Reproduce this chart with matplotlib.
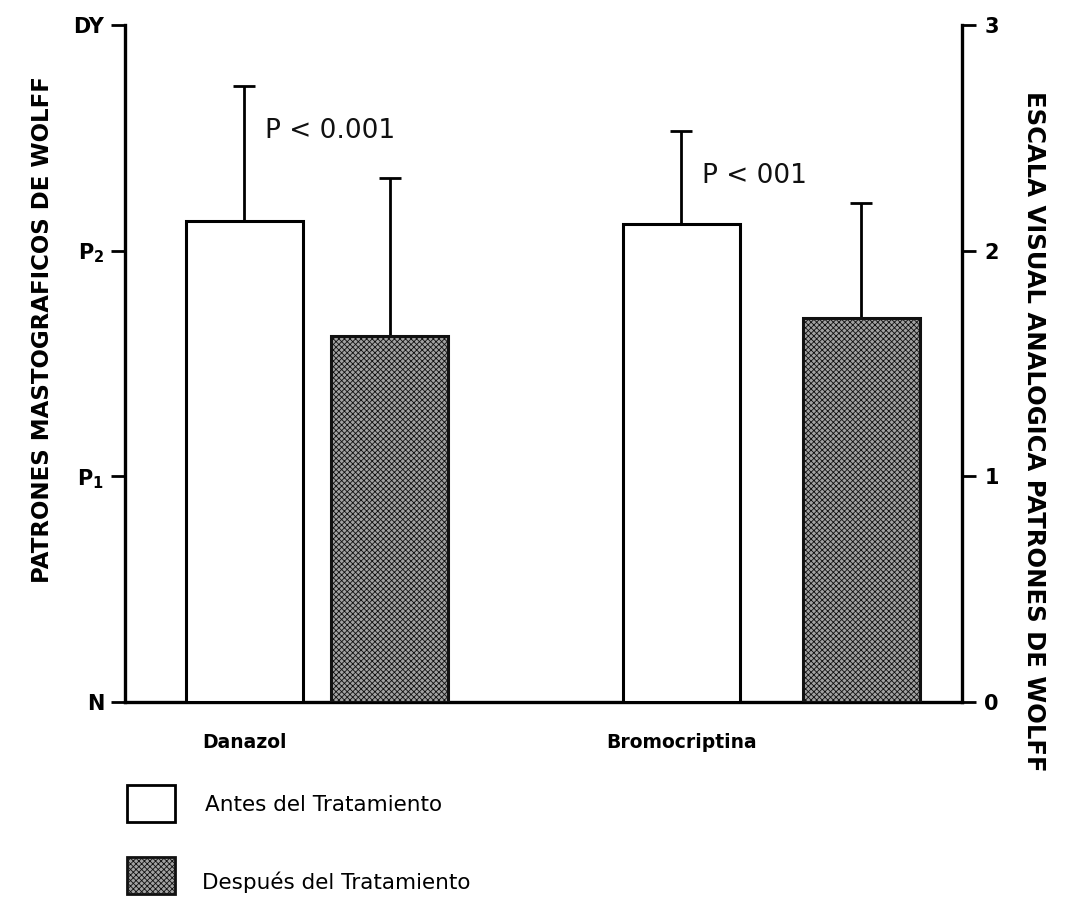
import matplotlib.pyplot as plt
from matplotlib.patches import Rectangle

# datos
categorias = ["Danazol", "Bromocriptina"]
antes = [2.13, 2.12]
despues = [1.62, 1.70]
err_antes = [0.60, 0.41]
err_despues = [0.70, 0.51]
etiquetas_izq = ["N", "P$_\\mathregular{1}$", "P$_\\mathregular{2}$", "DY"]
etiquetas_der = ["0", "1", "2", "3"]
p_textos = ["P < 0.001", "P < 001"]
leyenda = ["Antes del Tratamiento", "Después del Tratamiento"]

plt.rcParams["hatch.linewidth"] = 0.6
plt.rcParams["font.family"] = ["DejaVu Sans"]

fig = plt.figure(figsize=(10.81, 9.02), dpi=100)
ax = fig.add_axes([0.1156, 0.2217, 0.7744, 0.7506])

x_antes = [1.02, 4.75]
x_despues = [2.26, 6.29]
ancho = 1.0
gris = "#a2a2a2"

ax.bar(x_antes, antes, width=ancho, color="white", edgecolor="black",
       linewidth=2.2, zorder=3)
ax.bar(x_despues, despues, width=ancho, color=gris, edgecolor="#111111",
       linewidth=2.2, hatch="xxxxxx", zorder=3)
ax.errorbar(x_antes, antes, yerr=[[0, 0], err_antes], fmt="none",
            ecolor="black", elinewidth=2, capsize=8, capthick=2, zorder=2)
ax.errorbar(x_despues, despues, yerr=[[0, 0], err_despues], fmt="none",
            ecolor="black", elinewidth=2, capsize=8, capthick=2, zorder=2)

for xa, ya, ea, txt in zip(x_antes, antes, err_antes, p_textos):
    ax.text(xa + 0.18, ya + ea - 0.2, txt, fontsize=19, va="center",
            ha="left", color="#111111")

ax.set_xlim(0, 7.15)
ax.set_ylim(0, 3)
ax.set_yticks([0, 1, 2, 3])
ax.set_yticklabels(etiquetas_izq, fontsize=15, fontweight="bold")
ax.set_xticks(x_antes)
ax.set_xticklabels(categorias, fontsize=13.5, fontweight="bold")
ax.tick_params(axis="x", length=0, pad=22)
ax.tick_params(axis="y", direction="out", length=10, width=2, pad=5)
ax.spines["top"].set_visible(False)
ax.spines["right"].set_visible(False)
for s in ["left", "bottom"]:
    ax.spines[s].set_linewidth(2.4)

ax.set_ylabel("PATRONES MASTOGRAFICOS DE WOLFF", fontsize=16.5,
              fontweight="bold")
ax.yaxis.set_label_coords(-0.085, 0.55)

ax2 = ax.twinx()
ax2.set_ylim(0, 3)
ax2.set_yticks([0, 1, 2, 3])
ax2.set_yticklabels(etiquetas_der, fontsize=15, fontweight="bold")
ax2.tick_params(axis="y", direction="out", length=10, width=2, pad=6)
for s in ["top", "left", "bottom"]:
    ax2.spines[s].set_visible(False)
ax2.spines["right"].set_linewidth(2.4)
ax2.set_ylabel("ESCALA VISUAL ANALOGICA PATRONES DE WOLFF", fontsize=17.5,
               fontweight="bold", rotation=-90)
ax2.yaxis.set_label_coords(1.1, 0.4)

# leyenda dibujada a mano
fig.patches.append(Rectangle((127 / 1081, 1 - 822 / 902), 48 / 1081, 37 / 902,
                             transform=fig.transFigure, facecolor="white",
                             edgecolor="black", linewidth=2))
fig.patches.append(Rectangle((127 / 1081, 1 - 894 / 902), 48 / 1081, 37 / 902,
                             transform=fig.transFigure, facecolor=gris,
                             edgecolor="#111111", linewidth=2, hatch="xxxxxx"))
fig.text(205 / 1081, 1 - 805 / 902, leyenda[0], fontsize=15.5, va="center")
fig.text(202 / 1081, 1 - 882 / 902, leyenda[1], fontsize=15.5, va="center")

fig.savefig("out.png", dpi=100, facecolor="white")
